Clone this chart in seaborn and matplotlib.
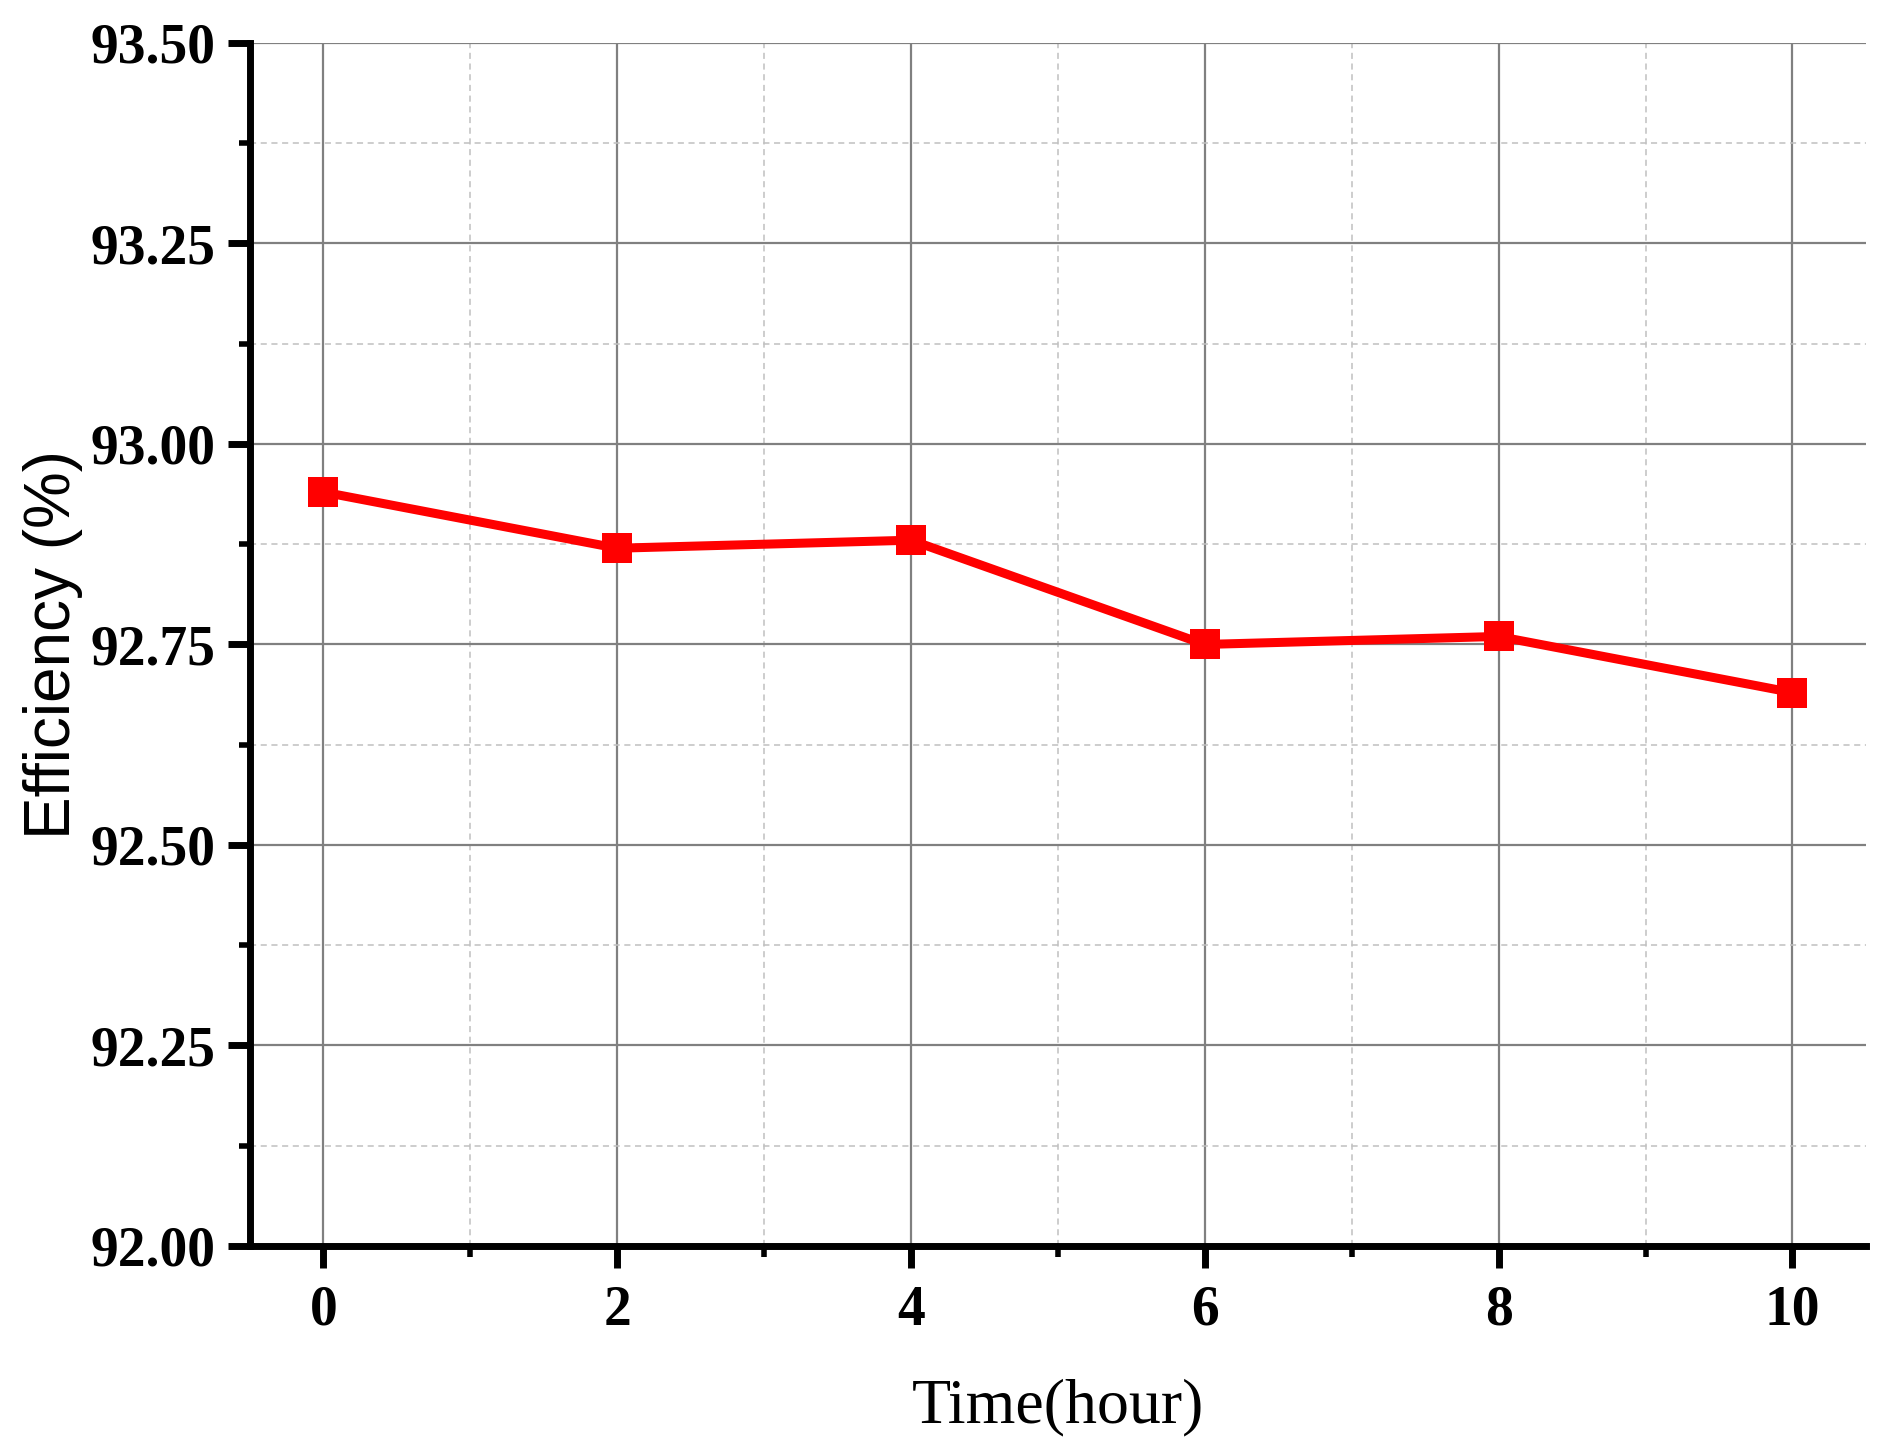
import pandas as pd
import seaborn as sns
import matplotlib.pyplot as plt
from matplotlib.ticker import MultipleLocator, FormatStrFormatter

# data
time_hour = [0, 2, 4, 6, 8, 10]
efficiency = [92.94, 92.87, 92.88, 92.75, 92.76, 92.69]

df = pd.DataFrame({"Time(hour)": time_hour, "Efficiency (%)": efficiency})

sns.set_style("white")
plt.rcParams['font.family'] = ['Liberation Serif', 'DejaVu Serif']
plt.rcParams['text.color'] = 'black'
plt.rcParams['axes.labelcolor'] = 'black'
plt.rcParams['xtick.color'] = 'black'
plt.rcParams['ytick.color'] = 'black'

fig = plt.figure(figsize=(18.93, 14.51), dpi=100)
ax = fig.add_axes([0.132, 0.1413, 0.8537, 0.8291])

sns.lineplot(data=df, x="Time(hour)", y="Efficiency (%)", ax=ax,
             color="#ff0000", linewidth=6.5, marker="s", markersize=21,
             markeredgewidth=0, zorder=5)

ax.set_xlim(-0.5, 10.5)
ax.set_ylim(92.0, 93.5)
ax.xaxis.set_major_locator(MultipleLocator(2))
ax.xaxis.set_minor_locator(MultipleLocator(1))
ax.yaxis.set_major_locator(MultipleLocator(0.25))
ax.yaxis.set_minor_locator(MultipleLocator(0.125))
ax.yaxis.set_major_formatter(FormatStrFormatter('%.2f'))

ax.grid(which="major", color="#808080", linewidth=1.6, linestyle="-")
ax.grid(which="minor", color="#c0c0c0", linewidth=1.1, linestyle=(0, (4, 3)))
ax.set_axisbelow(True)

for s in ["top", "right"]:
    ax.spines[s].set_visible(False)
for s in ["left", "bottom"]:
    ax.spines[s].set_linewidth(5)
    ax.spines[s].set_color("black")

ax.tick_params(which="major", direction="out", length=16, width=5,
               labelsize=40, color="black", labelcolor="black")
ax.tick_params(which="minor", direction="out", length=8, width=4, color="black")
ax.tick_params(axis="y", which="major", pad=9)
ax.tick_params(axis="x", which="major", pad=12)
ax.tick_params(axis="both", left=True, bottom=True)
ax.tick_params(axis="both", which="minor", left=True, bottom=True)
for lab in ax.get_xticklabels() + ax.get_yticklabels():
    lab.set_fontweight("bold")

ax.set_xlabel("Time(hour)", fontsize=46, labelpad=30)
ax.set_ylabel("Efficiency (%)", fontsize=46, labelpad=5,
              family=["Liberation Sans", "DejaVu Sans"])

fig.savefig("out.png", dpi=100)
